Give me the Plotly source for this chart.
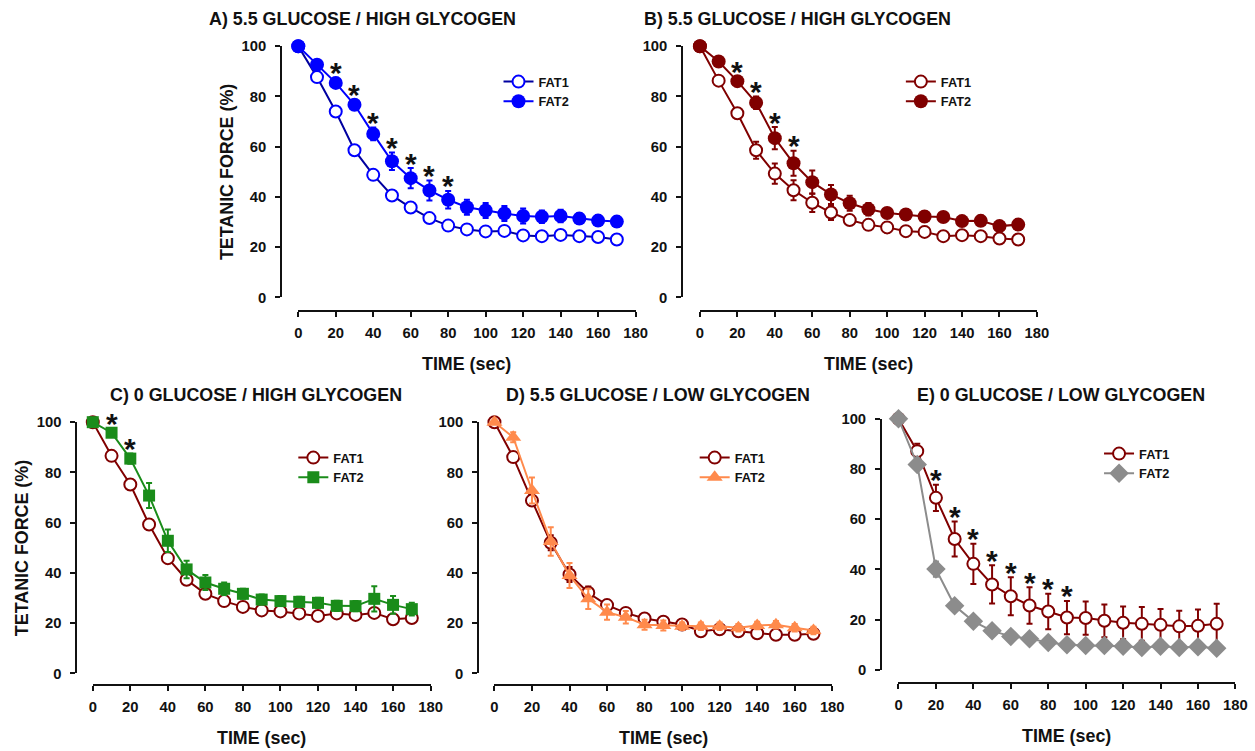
import plotly.graph_objects as go

# Time points (s)
time_s = [0, 10, 20, 30, 40, 50, 60, 70, 80, 90, 100, 110, 120, 130, 140, 150, 160, 170]

# A) 5.5 glucose / high glycogen
a_fat1 = [100, 87.7, 74.0, 58.6, 48.8, 40.6, 35.8, 31.6, 28.6, 27.1, 26.3, 26.5, 24.7, 24.4, 24.9, 24.4, 24.1, 23.1]
a_fat1_err = [0, 1, 1.5, 1.5, 1.5, 1.5, 1.5, 1.5, 1.5, 1.5, 1.5, 1.5, 1.5, 1.5, 1.5, 1.5, 1.5, 1.5]
a_fat2 = [100, 92.6, 85.4, 76.7, 65.1, 54.2, 47.5, 42.6, 38.9, 35.9, 34.6, 33.4, 32.4, 32.1, 32.4, 31.4, 30.6, 30.2]
a_fat2_err = [0, 1.5, 2, 2, 2.5, 3.5, 4, 4, 3.5, 3, 3, 3, 3, 2.5, 2.5, 2, 2, 2]
a_stars = [20, 30, 40, 50, 60, 70, 80]

# B) 5.5 glucose / high glycogen
b_fat1 = [100, 86.3, 73.3, 58.6, 49.3, 42.7, 37.7, 33.8, 30.8, 28.9, 27.9, 26.4, 26.1, 24.4, 24.8, 24.4, 23.5, 23.1]
b_fat1_err = [0, 1.5, 2, 3.4, 4, 4, 3.7, 3, 2, 2, 2, 2, 2, 1.5, 1.5, 1.5, 1.5, 1.5]
b_fat2 = [100, 93.9, 86.1, 77.5, 63.4, 53.4, 45.9, 41.0, 37.5, 35.1, 33.6, 33.0, 32.2, 32.0, 30.4, 30.5, 28.4, 29.0]
b_fat2_err = [0, 1.5, 2, 2.5, 4.4, 5, 4.6, 3.8, 3, 2.5, 2, 2, 2, 2, 2, 2, 2, 2]
b_stars = [20, 30, 40, 50]

# C) 0 glucose / high glycogen
c_fat1 = [100, 86.6, 75.2, 59.3, 45.9, 37.3, 31.7, 28.8, 26.5, 25.1, 24.7, 23.9, 22.9, 23.9, 23.3, 24.1, 21.6, 22.1]
c_fat1_err = [0, 1.5, 2, 2, 2, 2, 1.5, 1.5, 1.5, 1.5, 1.5, 1.5, 1.5, 1.5, 1.5, 1.5, 1.5, 1.5]
c_fat2 = [100, 95.8, 85.5, 70.8, 52.8, 41.4, 36.2, 33.7, 31.7, 29.4, 28.8, 28.5, 28.1, 26.9, 26.8, 29.7, 27.3, 25.6]
c_fat2_err = [0, 1.5, 2, 5, 4.5, 3.5, 3, 2.5, 2, 2, 2, 2, 2, 2, 2, 5, 3.5, 2.5]
c_stars = [10, 20]

# D) 5.5 glucose / low glycogen
d_fat1 = [100, 86.1, 68.8, 52.0, 39.4, 32.1, 27.2, 24.1, 21.9, 20.6, 19.5, 16.8, 17.6, 16.8, 16.0, 15.4, 15.4, 15.8]
d_fat1_err = [0, 1.5, 2, 3, 3, 2.5, 2, 2, 1.5, 1.5, 1.5, 1.5, 1.5, 1.5, 1.5, 1.5, 1.5, 1.5]
d_fat2 = [100, 94.0, 72.8, 52.5, 39.0, 29.7, 24.4, 22.4, 19.4, 19.1, 18.8, 18.8, 18.8, 18.2, 19.1, 19.4, 18.2, 17.1]
d_fat2_err = [0, 2, 5.2, 5.7, 5, 4, 3, 2.5, 2, 2, 1.5, 1.5, 1.5, 1.5, 1.5, 1.5, 1.5, 1.5]
d_stars = []

# E) 0 glucose / low glycogen
e_fat1 = [100, 87.1, 68.5, 52.1, 42.2, 34.0, 29.3, 25.6, 23.2, 20.8, 20.6, 19.5, 18.7, 18.3, 17.9, 17.3, 17.5, 18.3]
e_fat1_err = [0, 3, 5.2, 7, 8, 7.6, 7.6, 7.3, 7.1, 6.6, 6.6, 6.5, 6.5, 6.7, 6.3, 6.2, 6.5, 8]
e_fat2 = [100, 81.8, 40.1, 25.5, 19.3, 15.5, 13.3, 12.4, 10.9, 10.0, 9.7, 9.7, 9.4, 8.9, 9.4, 8.9, 9.2, 8.6]
e_fat2_err = [0, 2, 3, 2, 1.5, 1.5, 1.5, 1.5, 1.5, 1.5, 1.5, 1.5, 1.5, 1.5, 1.5, 1.5, 1.5, 1.5]
e_stars = [20, 30, 40, 50, 60, 70, 80, 90]

# Layout below is written in screen pixels; these convert screen pixels to figure pixels
AX, SX = 4.0, 0.9865
AY, SY = 7.5, 0.979
W, H = 1268, 760
FONT = "Liberation Sans, Arial, sans-serif"
INK = "#111111"

BLUE = "#0000FF"
NAVY = "#0000A0"
DARKRED = "#800000"
GREEN = "#1A8C1A"
ORANGE = "#FF8A4C"
GRAY = "#8C8C8C"


def fx(p):
    return (p - AX) / SX


def fy(p):
    return (p - AY) / SY


def px_x(p):
    return fx(p) / W


def px_y(p):
    return 1 - fy(p) / H


def fs(size):
    return size / SY


# Panel geometry in screen pixels: x of t=0, x of t=180, y of 0 %, y of 100 %,
# x of the detached y-axis line, y of the detached x-axis line,
# legend (line start x, first row y)
panels = [
    dict(title="A) 5.5 GLUCOSE / HIGH GLYCOGEN", x0=298, x1=635, yb=297, yt=45.7, ylx=281, xly=311,
         title_xy=(362, 19), ytitle=True, legend_xy=(503, 81),
         f1=a_fat1, e1=a_fat1_err, f2=a_fat2, e2=a_fat2_err, stars=a_stars, star_series=2,
         s1=dict(symbol="circle", color="white", size=12, line=dict(color=BLUE, width=2)), c1=NAVY, ec1=BLUE,
         s2=dict(symbol="circle", color=BLUE, size=14, line=dict(color=BLUE, width=0)), c2=BLUE, ec2=BLUE),
    dict(title="B) 5.5 GLUCOSE / HIGH GLYCOGEN", x0=699.3, x1=1036, yb=297, yt=45.7, ylx=681.7, xly=311,
         title_xy=(797, 19), ytitle=False, legend_xy=(905, 81),
         f1=b_fat1, e1=b_fat1_err, f2=b_fat2, e2=b_fat2_err, stars=b_stars, star_series=2,
         s1=dict(symbol="circle", color="white", size=12, line=dict(color=DARKRED, width=2)), c1=DARKRED, ec1=DARKRED,
         s2=dict(symbol="circle", color=DARKRED, size=14, line=dict(color=DARKRED, width=0)), c2=DARKRED, ec2=DARKRED),
    dict(title="C) 0 GLUCOSE / HIGH GLYCOGEN", x0=92.7, x1=430.2, yb=673, yt=421.7, ylx=76.3, xly=685,
         title_xy=(256, 395), ytitle=True, legend_xy=(298, 457),
         f1=c_fat1, e1=c_fat1_err, f2=c_fat2, e2=c_fat2_err, stars=c_stars, star_series=2,
         s1=dict(symbol="circle", color="white", size=12, line=dict(color=DARKRED, width=2)), c1=DARKRED, ec1=DARKRED,
         s2=dict(symbol="square", color=GREEN, size=12, line=dict(color=GREEN, width=0)), c2=GREEN, ec2=GREEN),
    dict(title="D) 5.5 GLUCOSE / LOW GLYCOGEN", x0=494, x1=831.5, yb=673, yt=421.7, ylx=477.7, xly=685,
         title_xy=(657.5, 395), ytitle=False, legend_xy=(699, 457),
         f1=d_fat1, e1=d_fat1_err, f2=d_fat2, e2=d_fat2_err, stars=d_stars, star_series=2,
         s1=dict(symbol="circle", color="white", size=12, line=dict(color=DARKRED, width=2)), c1=DARKRED, ec1=DARKRED,
         s2=dict(symbol="triangle-up", color=ORANGE, size=14, line=dict(color=ORANGE, width=0)), c2=ORANGE, ec2=ORANGE),
    dict(title="E) 0 GLUCOSE / LOW GLYCOGEN", x0=897.7, x1=1234.3, yb=669.3, yt=418.3, ylx=880.3, xly=682.7,
         title_xy=(1060, 395), ytitle=False, legend_xy=(1103, 453),
         f1=e_fat1, e1=e_fat1_err, f2=e_fat2, e2=e_fat2_err, stars=e_stars, star_series=1,
         s1=dict(symbol="circle", color="white", size=12, line=dict(color=DARKRED, width=2)), c1=DARKRED, ec1=DARKRED,
         s2=dict(symbol="diamond", color=GRAY, size=15, line=dict(color=GRAY, width=0)), c2=GRAY, ec2=GRAY),
]

fig = go.Figure()
layout = dict(
    width=W, height=H, margin=dict(l=0, r=0, t=0, b=0),
    paper_bgcolor="white", plot_bgcolor="white",
    font=dict(family=FONT, color=INK, size=14),
    showlegend=True,
)
annotations = []

for i, p in enumerate(panels, start=1):
    xname = "x" if i == 1 else f"x{i}"
    yname = "y" if i == 1 else f"y{i}"
    xkey = "xaxis" if i == 1 else f"xaxis{i}"
    ykey = "yaxis" if i == 1 else f"yaxis{i}"
    lkey = "legend" if i == 1 else f"legend{i}"

    axis_common = dict(
        showgrid=False, zeroline=False, showline=True, linecolor=INK, linewidth=2,
        ticks="outside", ticklen=5, tickwidth=2, tickcolor=INK, anchor="free",
        tickfont=dict(family=FONT, size=fs(14.5), color=INK, weight="bold"),
    )
    layout[xkey] = dict(axis_common, domain=[px_x(p["x0"]), px_x(p["x1"])], range=[0, 180],
                        tick0=0, dtick=20, position=px_y(p["xly"]), ticklabelstandoff=3)
    layout[ykey] = dict(axis_common, domain=[px_y(p["yb"]), px_y(p["yt"])], range=[0, 100],
                        tick0=0, dtick=20, position=px_x(p["ylx"]), ticklabelstandoff=6)

    fig.add_trace(go.Scatter(
        x=time_s, y=p["f1"], name="FAT1", mode="lines+markers", xaxis=xname, yaxis=yname,
        line=dict(color=p["c1"], width=2), marker=p["s1"], cliponaxis=False, legend=lkey,
        error_y=dict(type="data", array=p["e1"], color=p["ec1"], thickness=2, width=3),
    ))
    fig.add_trace(go.Scatter(
        x=time_s, y=p["f2"], name="FAT2", mode="lines+markers", xaxis=xname, yaxis=yname,
        line=dict(color=p["c2"], width=2), marker=p["s2"], cliponaxis=False, legend=lkey,
        error_y=dict(type="data", array=p["e2"], color=p["ec2"], thickness=2, width=3),
    ))

    # Legend box: symbol line starts 5 px inside, first row centred 15 px below the top
    lx, ly = p["legend_xy"]
    layout[lkey] = dict(
        x=(fx(lx) - 5) / W, y=1 - (fy(ly) - 15) / H, xanchor="left", yanchor="top",
        xref="paper", yref="paper",
        bgcolor="rgba(0,0,0,0)", borderwidth=0, itemwidth=30, tracegroupgap=0,
        font=dict(family=FONT, size=fs(12.5), color=INK, weight="bold"),
    )

    # Panel title
    tx, ty = p["title_xy"]
    annotations.append(dict(
        text=p["title"], x=px_x(tx), y=px_y(ty), xref="paper", yref="paper",
        xanchor="center", yanchor="middle", showarrow=False,
        font=dict(family=FONT, size=fs(17.5), color=INK, weight="bold"),
    ))
    # Axis titles
    annotations.append(dict(
        text="TIME (sec)", x=px_x((p["x0"] + p["x1"]) / 2), y=px_y(p["xly"] + 53),
        xref="paper", yref="paper", xanchor="center", yanchor="middle", showarrow=False,
        font=dict(family=FONT, size=fs(17.5), color=INK, weight="bold"),
    ))
    if p["ytitle"]:
        annotations.append(dict(
            text="TETANIC FORCE (%)", x=px_x(p["ylx"] - 54), y=px_y((p["yb"] + p["yt"]) / 2),
            xref="paper", yref="paper", xanchor="center", yanchor="middle", showarrow=False,
            textangle=-90, font=dict(family=FONT, size=fs(17.5), color=INK, weight="bold"),
        ))

    # Significance markers above the error bar of the upper series
    vals = p["f2"] if p["star_series"] == 2 else p["f1"]
    errs = p["e2"] if p["star_series"] == 2 else p["e1"]
    for t in p["stars"]:
        k = time_s.index(t)
        annotations.append(dict(
            text="*", x=t, y=vals[k] + errs[k], xref=xname, yref=yname,
            xanchor="center", yanchor="middle", yshift=5, showarrow=False,
            font=dict(family=FONT, size=30, color=INK, weight="bold"),
        ))

layout["annotations"] = annotations
fig.update_layout(**layout)
fig.write_html("out.html")
